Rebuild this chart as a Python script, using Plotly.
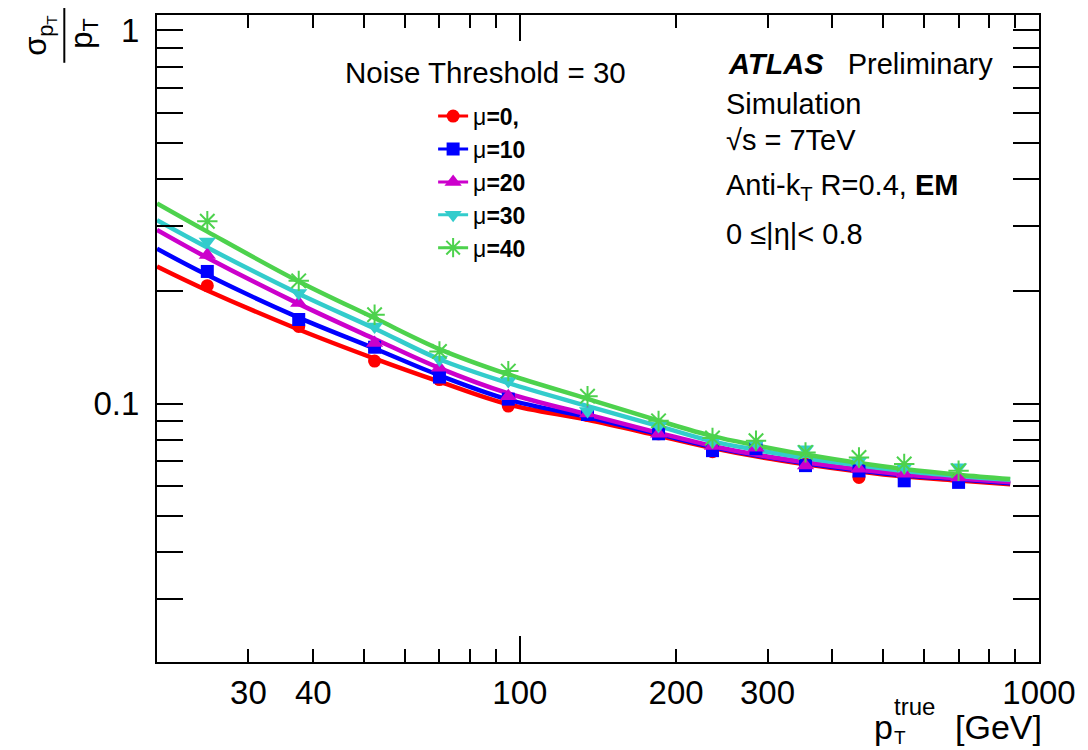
import plotly.graph_objects as go
import math

# ---------------- data ----------------
pt_points = [25, 37.5, 52.5, 70, 95, 135, 185, 235, 285, 355, 450, 550, 700]
mu0_pts  = [0.207, 0.161, 0.130, 0.116, 0.0985, 0.093, 0.083, 0.0743, 0.0760, 0.0688, 0.0634, 0.0632, 0.0629]
mu10_pts = [0.226, 0.168, 0.1416, 0.1178, 0.1028, 0.0935, 0.083, 0.0748, 0.0757, 0.0682, 0.0660, 0.0621, 0.0615]
mu20_pts = [0.250, 0.186, 0.1453, 0.1247, 0.1047, 0.094, 0.083, 0.0770, 0.0761, 0.0682, 0.0669, 0.0649, 0.0634]
mu30_pts = [0.272, 0.198, 0.161, 0.1313, 0.1149, 0.0956, 0.0871, 0.0792, 0.0780, 0.0755, 0.0703, 0.0675, 0.0675]
mu40_pts = [0.308, 0.2133, 0.173, 0.138, 0.1222, 0.1047, 0.0899, 0.0809, 0.0795, 0.0740, 0.0717, 0.0689, 0.0661]

pt_fit = [20, 25, 37.5, 52.5, 70, 95, 135, 185, 235, 285, 355, 450, 550, 700, 880]
mu0_fit  = [0.233, 0.201, 0.158, 0.132, 0.1145, 0.0995, 0.0905, 0.0820, 0.0760, 0.0722, 0.0688, 0.0658, 0.0638, 0.0622, 0.0608]
mu10_fit = [0.260, 0.221, 0.170, 0.1405, 0.119, 0.1025, 0.0920, 0.0828, 0.0765, 0.0727, 0.0692, 0.0662, 0.0642, 0.0627, 0.0612]
mu20_fit = [0.292, 0.246, 0.185, 0.149, 0.1245, 0.1065, 0.0935, 0.0835, 0.0770, 0.0730, 0.0696, 0.0666, 0.0646, 0.0630, 0.0615]
mu30_fit = [0.310, 0.262, 0.197, 0.159, 0.1315, 0.1135, 0.0985, 0.0870, 0.0792, 0.0752, 0.0715, 0.0683, 0.0660, 0.0640, 0.0625]
mu40_fit = [0.344, 0.289, 0.2125, 0.1695, 0.140, 0.1197, 0.1030, 0.0900, 0.0818, 0.0773, 0.0730, 0.0693, 0.0668, 0.0645, 0.0628]

labels = ["μ<b>=0,</b>", "μ<b>=10</b>", "μ<b>=20</b>", "μ<b>=30</b>", "μ<b>=40</b>"]
colors = ["#ff0000", "#0000ff", "#cc00cc", "#33cccc", "#4dd24d"]
symbols = ["circle", "square", "triangle-up", "triangle-down", "asterisk-open"]
msizes = [13, 13, 15, 15, 17]

x_major_labels = [30, 40, 100, 200, 300, 1000]
x_minor = [50, 60, 70, 80, 90, 400, 500, 600, 700, 800, 900]
y_major = [0.1, 1]
y_minor = [0.03, 0.04, 0.05, 0.06, 0.07, 0.08, 0.09, 0.2, 0.3, 0.4, 0.5, 0.6, 0.7, 0.8, 0.9]

points = [mu0_pts, mu10_pts, mu20_pts, mu30_pts, mu40_pts]
fits = [mu0_fit, mu10_fit, mu20_fit, mu30_fit, mu40_fit]

# ---------------- layout geometry ----------------
W, H = 1088, 750
ML, MR, MT, MB = 157, 27, 12, 88
PW, PH = W - ML - MR, H - MT - MB


def px(x):
    return (x - ML) / PW


def py(y):
    return (H - MB - y) / PH


FONT = "Liberation Sans, Arial, sans-serif"

fig = go.Figure()

for i in range(5):
    fig.add_trace(go.Scatter(
        x=pt_fit, y=fits[i], mode="lines", line=dict(color=colors[i], width=4.5, shape="spline"),
        showlegend=False, hoverinfo="skip"))
for i in range(5):
    mline = dict(color=colors[i], width=2) if symbols[i] == "asterisk-open" else dict(width=0)
    fig.add_trace(go.Scatter(
        x=pt_points, y=points[i], mode="markers",
        marker=dict(symbol=symbols[i], size=msizes[i], color=colors[i], line=mline),
        showlegend=False))
# legend entries
for i in range(5):
    mline = dict(color=colors[i], width=2) if symbols[i] == "asterisk-open" else dict(width=0)
    fig.add_trace(go.Scatter(
        x=[None], y=[None], mode="lines+markers", name=labels[i],
        line=dict(color=colors[i], width=3),
        marker=dict(symbol=symbols[i], size=msizes[i], color=colors[i], line=mline)))
# helper trace for long decade ticks on x
fig.add_trace(go.Scatter(x=[None], y=[None], xaxis="x2", showlegend=False, hoverinfo="skip"))

xr = [math.log10(20), math.log10(1000)]
yr = [math.log10(0.0203), math.log10(1.10)]

fig.update_layout(
    width=W, height=H,
    margin=dict(l=ML, r=MR, t=MT, b=MB),
    paper_bgcolor="white", plot_bgcolor="white",
    font=dict(family=FONT, color="black"),
    xaxis=dict(
        type="log", range=xr, showgrid=False, zeroline=False,
        showline=True, linecolor="black", linewidth=2, mirror="allticks",
        ticks="inside", ticklen=13, tickwidth=1.5, tickcolor="black",
        tickmode="array", tickvals=x_major_labels, ticktext=[str(v) for v in x_major_labels],
        tickfont=dict(size=33, family=FONT), ticklabelstandoff=0,
        ticklabeloverflow="allow",
        minor=dict(tickmode="array", tickvals=x_minor, ticks="inside", ticklen=13,
                   tickwidth=1.5, tickcolor="black", showgrid=False),
    ),
    xaxis2=dict(
        type="log", range=xr, overlaying="x", anchor="y", side="bottom",
        showgrid=False, zeroline=False, showline=False, mirror="allticks",
        ticks="inside", ticklen=26, tickwidth=1.5, tickcolor="black",
        tickmode="array", tickvals=[100, 1000], showticklabels=False,
    ),
    yaxis=dict(
        type="log", range=yr, showgrid=False, zeroline=False,
        showline=True, linecolor="black", linewidth=2, mirror="allticks",
        ticks="inside", ticklen=26, tickwidth=1.5, tickcolor="black",
        tickmode="array", tickvals=y_major, ticktext=["0.1", "1"],
        tickfont=dict(size=33, family=FONT), ticklabelstandoff=9,
        minor=dict(tickmode="array", tickvals=y_minor, ticks="inside", ticklen=13,
                   tickwidth=1.5, tickcolor="black", showgrid=False),
    ),
    legend=dict(
        x=px(440), y=py(92), xanchor="left", yanchor="top",
        bgcolor="rgba(0,0,0,0)", font=dict(size=23, family=FONT),
        itemwidth=30, tracegroupgap=0,
    ),
)

ann = []


def text(x, y, s, size=29, xanchor="left", **kw):
    ann.append(dict(x=px(x), y=py(y), xref="paper", yref="paper", text=s, showarrow=False,
                    xanchor=xanchor, yanchor="middle", font=dict(size=size, family=FONT, color="black"), **kw))


text(494, 70, "Noise Threshold = 30", size=29.5, xanchor="center")
text(740, 61, "<b><i>ATLAS</i></b>&nbsp;&nbsp;&nbsp;Preliminary", size=29)
text(738, 101, "Simulation", size=29)
text(738, 138, "√s = 7TeV", size=29)
text(738, 185, "Anti-k<sub>T</sub> R=0.4, <b>EM</b>", size=29)
text(738, 232, "0 ≤|η|< 0.8", size=29)

# x-axis title
text(1066, 727, "[GeV]", size=34, xanchor="right")
text(890, 727, "p", size=34)
text(910, 707, "true", size=24)
text(910, 738, "T", size=19)

# y-axis title (rotated fraction)
text(36, 33, "σ<sub>p<sub>T</sub></sub>", size=31, xanchor="center", textangle=-90)
text(82, 30, "p<sub>T</sub>", size=31, xanchor="center", textangle=-90)

fig.update_layout(annotations=ann)
fig.add_shape(type="line", xref="paper", yref="paper", x0=px(62), x1=px(62), y0=py(5), y1=py(60),
              line=dict(color="black", width=2))

fig.write_html("out.html")
